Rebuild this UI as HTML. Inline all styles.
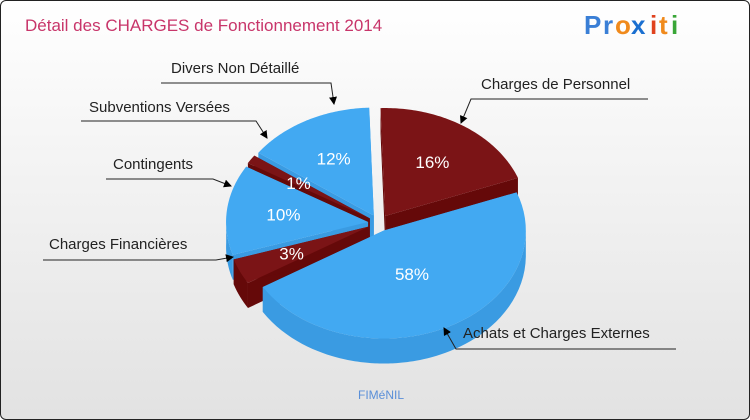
<!DOCTYPE html>
<html><head><meta charset="utf-8"><style>
body{margin:0;width:750px;height:420px;overflow:hidden;font-family:"Liberation Sans",sans-serif}
#wrap{position:absolute;left:0;top:0;width:748px;height:418px;border:1px solid #222;border-radius:6px;background:linear-gradient(#ffffff,#f6f6f6 30%,#e2e2e2);overflow:hidden}
</style></head><body>
<div id="wrap">
<svg id="svg" width="750" height="420">
<text x="24" y="30" font-size="17" fill="#c8356a">Détail des CHARGES de Fonctionnement 2014</text>
<g font-size="26" font-weight="bold" font-family="Liberation Sans, sans-serif">
<text x="583" y="33" fill="#3a7fd6">P</text><text x="602" y="33" fill="#3a7fd6">r</text><text x="614" y="33" fill="#f08a1c">o</text><text x="630" y="33" fill="#1a6fd0">x</text><text x="649" y="33" fill="#e0421e">i</text><text x="658" y="33" fill="#f08a1c">t</text><text x="670" y="33" fill="#39a637">i</text>
</g>
<g id="pie"></g>
<g id="labels"></g>
<text x="380" y="398" font-size="12" fill="#5a8fd8" text-anchor="middle">FIMéNIL</text>
</svg>
</div>
<script>
const categories=["Achats et Charges Externes","Charges Financières","Contingents","Subventions Versées","Divers Non Détaillé","Charges de Personnel"];
const values=[58,3,10,1,12,16];
const pctLabels=["58%","3%","10%","1%","12%","16%"];
const colorsTop=["#42A9F2","#7B1416","#42A9F2","#7B1416","#42A9F2","#7B1416"];
const colorsSide=["#3A9BE2","#650909","#3A9BE2","#650909","#3A9BE2","#650909"];
const cx=378,cy=222,rx=142,ry=108,depth=25,explode=11,startDeg=-34,warpA=25*Math.PI/180,warpB=8*Math.PI/180;
const NS="http://www.w3.org/2000/svg";
const pie=document.getElementById('pie');
const total=values.reduce((a,b)=>a+b,0);
function W(t){return t+warpA*Math.cos(t)+warpB*Math.sin(2*t);}
function pt(ox,oy,t,dy){const a=W(t);return [ox+rx*Math.cos(a),oy+ry*Math.sin(a)+(dy||0)];}
function mk(tag,attrs){const e=document.createElementNS(NS,tag);for(const k in attrs)e.setAttribute(k,attrs[k]);return e;}
let acc=startDeg*Math.PI/180;const slices=[];
values.forEach((v,i)=>{const a0=acc,a1=acc+v/total*2*Math.PI;acc=a1;const m=(a0+a1)/2;const wm=(W(a0)+W(a1))/2;
slices.push({i,a0,a1,m,wm,ox:cx+explode*Math.cos(wm),oy:cy+explode*Math.sin(wm)*ry/rx});});
const order=slices.slice().sort((a,b)=>Math.sin(a.wm)-Math.sin(b.wm));
order.forEach(s=>{
 const g=mk('g',{});
 
 
 const side=colorsSide[s.i];
 [s.a0,s.a1].forEach(a=>{const p=pt(s.ox,s.oy,a);
  g.appendChild(mk('path',{d:`M${s.ox},${s.oy}L${p[0]},${p[1]}L${p[0]},${p[1]+depth}L${s.ox},${s.oy+depth}Z`,fill:side}));});
 let d='';const N=80;
 for(let k=0;k<=N;k++){const a=s.a0+(s.a1-s.a0)*k/N;if(Math.sin(W(a))<-0.05)continue;const p=pt(s.ox,s.oy,a);d+=(d?'L':'M')+p[0]+','+p[1];}
 if(d){const back=[];for(let k=N;k>=0;k--){const a=s.a0+(s.a1-s.a0)*k/N;if(Math.sin(W(a))<-0.05)continue;const p=pt(s.ox,s.oy,a,depth);back.push(p[0]+','+p[1]);}
  g.appendChild(mk('path',{d:d+'L'+back.join('L')+'Z',fill:side}));}
 let t=`M${s.ox},${s.oy}`;for(let k=0;k<=N;k++){const a=s.a0+(s.a1-s.a0)*k/N;const p=pt(s.ox,s.oy,a);t+=`L${p[0]},${p[1]}`;}
 g.appendChild(mk('path',{d:t+'Z',fill:colorsTop[s.i]}));
 pie.appendChild(g);
});
slices.forEach(s=>{const f=s.i===0?0.45:0.6;
 const x=s.ox+rx*f*Math.cos(s.wm),y=s.oy+ry*f*Math.sin(s.wm)+6;
 const t=mk('text',{x,y,'font-size':17,fill:'#fff','text-anchor':'middle'});t.textContent=pctLabels[s.i];
 
 
 pie.appendChild(t);});
const labels=document.getElementById('labels');
const calls=[
 [0,462,337,455,675,348,443,327],
 [1,48,248,42,215,259,232,256],
 [2,112,168,105,212,178,230,185],
 [3,88,111,80,255,120,266,137],
 [4,170,72,160,330,82,333,103],
 [5,480,88,470,647,98,460,122]];
const defs=mk('defs',{});defs.innerHTML='<marker id="ar" markerWidth="8" markerHeight="8" refX="7" refY="4" orient="auto" markerUnits="userSpaceOnUse"><path d="M0,0L8,4L0,8Z" fill="#000"/></marker>';
labels.appendChild(defs);
calls.forEach(c=>{const [i,tx,ty,lx0,lx1,ly,ax,ay]=c;
 const t=mk('text',{x:tx,y:ty,'font-size':15,fill:'#222'});t.textContent=categories[i];
 
 
 labels.appendChild(t);
 const near=Math.abs(ax-lx0)<Math.abs(ax-lx1)?lx0:lx1;const far=near===lx0?lx1:lx0;
 const p=mk('path',{d:`M${far},${ly}L${near},${ly}L${ax},${ay}`,fill:'none',stroke:'#222','stroke-width':1,'marker-end':'url(#ar)'});
 
 
 labels.appendChild(p);});
</script>
</body></html>
